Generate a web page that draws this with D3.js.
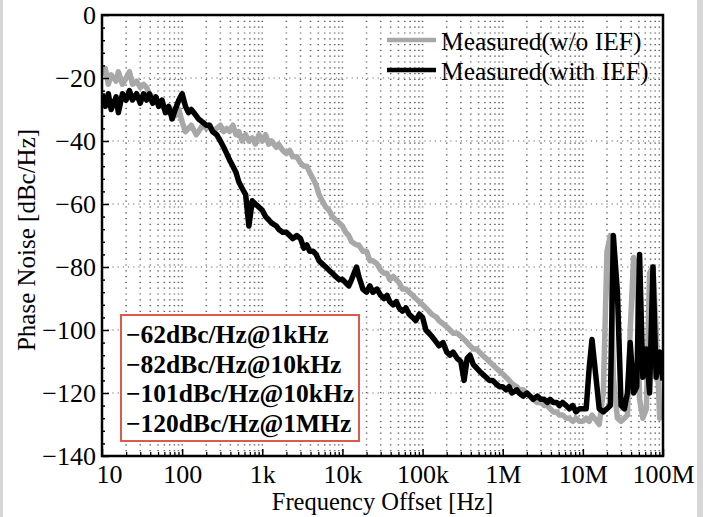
<!DOCTYPE html>
<html><head><meta charset="utf-8">
<script src="https://cdn.jsdelivr.net/npm/d3@7"></script>
<style>
body{margin:0;background:#fff}
svg{display:block}
text{font-family:"Liberation Serif","Times New Roman",serif}
</style></head>
<body><svg id="c" width="703" height="517"></svg>
<script>
// ---------- data ----------
const freqHz = [
 10,11,12,13,15,16,18,20,22,24,27,30,33,36,39,43,47,51,56,62,68,75,82,91,
 100,110,120,130,150,160,180,200,220,240,270,300,330,360,390,430,470,510,560,620,680,750,820,910,
 1e3,1.1e3,1.2e3,1.3e3,1.5e3,1.6e3,1.8e3,2e3,2.2e3,2.4e3,2.7e3,3e3,3.3e3,3.6e3,3.9e3,4.3e3,4.7e3,5.1e3,5.6e3,6.2e3,6.8e3,7.5e3,8.2e3,9.1e3,
 1e4,1.1e4,1.2e4,1.3e4,1.5e4,1.6e4,1.8e4,2e4,2.2e4,2.4e4,2.7e4,3e4,3.3e4,3.6e4,3.9e4,4.3e4,4.7e4,5.1e4,5.6e4,6.2e4,6.8e4,7.5e4,8.2e4,9.1e4,
 1e5,1.1e5,1.2e5,1.3e5,1.5e5,1.6e5,1.8e5,2e5,2.2e5,2.4e5,2.7e5,3e5,3.3e5,3.6e5,3.9e5,4.3e5,4.7e5,5.1e5,5.6e5,6.2e5,6.8e5,7.5e5,8.2e5,9.1e5,
 1e6,1.1e6,1.2e6,1.3e6,1.5e6,1.6e6,1.8e6,2e6,2.2e6,2.4e6,2.7e6,3e6,3.3e6,3.6e6,3.9e6,4.3e6,4.7e6,5.1e6,5.6e6,6.2e6,6.8e6,7.5e6,8.2e6,9.1e6,
 1e7,1.1e7,1.2e7,1.3e7,1.5e7,1.6e7,1.8e7,2e7,2.2e7,2.4e7,2.7e7,3e7,3.3e7,3.6e7,3.9e7,4.3e7,4.7e7,5.1e7,5.6e7,6.2e7,6.8e7,7.5e7,8.2e7,9.1e7,
 1e8
];
const withIEF = [
 -25,-29,-25,-30,-26,-31,-25,-27,-24,-27,-25,-28,-25,-27,-25,-28,-26,-29,-27,-31,-29,-33,-30,-27,
 -25,-29,-31,-30,-32,-33,-34,-35,-35,-37,-38,-40,-42,-44,-46,-48,-50,-53,-55,-57,-67,-59,-60,-61,
 -62,-64,-65,-66,-67,-68,-69,-69,-70,-71,-70,-71,-74,-73,-75,-75,-76,-78,-79,-80,-81,-82,-83,-84,
 -84,-85,-86,-84,-80,-83,-87,-88,-86,-88,-87,-89,-90,-89,-91,-92,-91,-93,-94,-93,-95,-96,-97,-95,
 -96,-100,-101,-102,-104,-105,-104,-107,-108,-107,-109,-110,-116,-109,-108,-111,-112,-113,-114,-115,-116,-116,-117,-118,
 -118,-119,-118,-120,-119,-120,-121,-120,-121,-122,-121,-122,-122,-123,-122,-123,-123,-124,-123,-124,-125,-124,-126,-125,
 -125,-125,-112,-103,-118,-125,-126,-125,-124,-70,-88,-124,-125,-120,-104,-120,-118,-76,-115,-106,-120,-80,-115,-107,
 -116
];
const withoutIEF = [
 -19,-17,-22,-19,-21,-18,-22,-20,-18,-22,-21,-23,-22,-23,-25,-26,-27,-28,-29,-30,-31,-30,-32,-30,
 -34,-37,-36,-35,-38,-37,-35,-36,-35,-37,-36,-35,-37,-36,-37,-35,-38,-37,-40,-38,-40,-39,-41,-38,
 -40,-38,-41,-40,-42,-41,-43,-44,-43,-45,-45,-47,-48,-48,-50,-52,-54,-57,-59,-61,-62,-64,-65,-66,
 -67,-69,-70,-72,-73,-73,-75,-75,-78,-78,-79,-81,-82,-82,-84,-83,-84,-85,-87,-87,-88,-89,-90,-91,
 -92,-93,-94,-95,-96,-97,-98,-99,-100,-101,-101,-102,-103,-104,-105,-106,-106,-107,-108,-109,-110,-111,-112,-113,
 -114,-115,-116,-117,-118,-119,-119,-120,-121,-122,-123,-123,-124,-124,-125,-126,-126,-127,-127,-128,-128,-129,-128,-129,
 -129,-128,-129,-127,-129,-130,-120,-75,-70,-115,-128,-129,-128,-127,-100,-77,-80,-122,-128,-125,-82,-80,-100,-128,
 -127
];
const xTickValues = [10,100,1e3,1e4,1e5,1e6,1e7,1e8];
const xTickLabels = ["10","100","1k","10k","100k","1M","10M","100M"];
const yTickValues = [0,-20,-40,-60,-80,-100,-120,-140];
const yTickLabels = ["0","\u221220","\u221240","\u221260","\u221280","\u2212100","\u2212120","\u2212140"];
const seriesNames = ["Measured(w/o IEF)","Measured(with IEF)"];
const noteLines = ["\u221262dBc/Hz@1kHz","\u221282dBc/Hz@10kHz","\u2212101dBc/Hz@10kHz","\u2212120dBc/Hz@1MHz"];

// ---------- layout ----------
const svg = d3.select("#c");
const L = 102, T = 15, R = 663, B = 456;
const x = d3.scaleLog().domain([10, 1e8]).range([L, R]);
const y = d3.scaleLinear().domain([-140, 0]).range([B, T]);

// grey side strips of the original picture
svg.append("rect").attr("x",0).attr("y",0).attr("width",3).attr("height",517).attr("fill","#d6d6d6");
svg.append("rect").attr("x",697).attr("y",0).attr("width",6).attr("height",517).attr("fill","#d6d6d6");

// grid
const xGrid = [];
xTickValues.slice(0,-1).forEach(d => { for (let m=1;m<=9;m++) xGrid.push(d*m); });
const grid = svg.append("g");
grid.selectAll("line.v").data(xGrid.filter(v=>v>10)).join("line")
  .attr("x1",d=>x(d)).attr("x2",d=>x(d)).attr("y1",T).attr("y2",B)
  .attr("stroke","#666").attr("stroke-width",1.6).attr("stroke-dasharray","1.2,4.6");
grid.selectAll("line.h").data(yTickValues.filter(v=>v<0 && v>-140)).join("line")
  .attr("x1",L).attr("x2",R).attr("y1",d=>y(d)).attr("y2",d=>y(d))
  .attr("stroke","#666").attr("stroke-width",1.2).attr("stroke-dasharray","1.2,4");

// lines
svg.append("clipPath").attr("id","pc").append("rect")
  .attr("x",L).attr("y",T).attr("width",R-L).attr("height",B-T);
const line = d3.line().x((d,i)=>x(freqHz[i])).y(d=>y(d)).curve(d3.curveLinear);
const plot = svg.append("g").attr("clip-path","url(#pc)");
plot.append("path").attr("d",line(withoutIEF)).attr("fill","none")
  .attr("stroke","#a8a8a8").attr("stroke-width",5.5).attr("stroke-linejoin","round");
plot.append("path").attr("d",line(withIEF)).attr("fill","none")
  .attr("stroke","#000").attr("stroke-width",5.5).attr("stroke-linejoin","round");

// axes
const tfs = 26;
const xMinor = xGrid.filter(v => !xTickValues.includes(v));
const yMinor = d3.range(-136, 0, 4).filter(v => v % 20 !== 0);
const gx = svg.append("g").attr("transform",`translate(0,${B})`)
  .call(d3.axisBottom(x).tickValues(xTickValues).tickSize(-7).tickPadding(9)
    .tickFormat((d,i)=>xTickLabels[i]));
gx.select(".domain").remove();
gx.selectAll("text").attr("font-size",tfs).attr("fill","#000").style("font-family","'Liberation Serif',serif");
gx.selectAll("text").filter((d,i)=>i===0).attr("dx",7);
gx.selectAll("line").attr("stroke-width",1.5);
const gxm = svg.append("g").attr("transform",`translate(0,${B})`)
  .call(d3.axisBottom(x).tickValues(xMinor).tickSize(-4).tickFormat(""));
gxm.select(".domain").remove();
gxm.selectAll("line").attr("stroke-width",1.3);

const gy = svg.append("g").attr("transform",`translate(${L},0)`)
  .call(d3.axisLeft(y).tickValues(yTickValues).tickSize(-7).tickPadding(6)
    .tickFormat((d,i)=>yTickLabels[i]));
gy.select(".domain").remove();
gy.selectAll("text").attr("font-size",tfs).attr("fill","#000").style("font-family","'Liberation Serif',serif");
gy.selectAll("line").attr("stroke-width",1.5);
const gym = svg.append("g").attr("transform",`translate(${L},0)`)
  .call(d3.axisLeft(y).tickValues(yMinor).tickSize(-3).tickFormat(""));
gym.select(".domain").remove();
gym.selectAll("line").attr("stroke-width",1.5);

// frame
svg.append("rect").attr("x",L).attr("y",T).attr("width",R-L).attr("height",B-T)
  .attr("fill","none").attr("stroke","#000").attr("stroke-width",2.5);

// axis titles
svg.append("text").attr("x",(L+R)/2).attr("y",510).attr("text-anchor","middle")
  .attr("font-size",24.5).text("Frequency Offset [Hz]");
svg.append("text").attr("transform","translate(35,240) rotate(-90)").attr("text-anchor","middle")
  .attr("font-size",25).text("Phase Noise [dBc/Hz]");

// legend
const leg = svg.append("g");
const legColors = ["#a8a8a8","#000"];
seriesNames.forEach((n,i) => {
  const ly = 40 + i*30;
  leg.append("line").attr("x1",387).attr("x2",436).attr("y1",ly).attr("y2",ly)
    .attr("stroke",legColors[i]).attr("stroke-width",4.5);
  leg.append("text").attr("x",441).attr("y",ly+9.5).attr("font-size",25.5).text(n);
});

// annotation box
svg.append("rect").attr("x",121).attr("y",315).attr("width",238).attr("height",126)
  .attr("fill","#fff").attr("stroke","#dc5a4a").attr("stroke-width",2);
noteLines.forEach((t,i) => {
  svg.append("text").attr("x",126).attr("y",343 + i*29.7).attr("font-size",25.5)
    .attr("font-weight","bold").text(t);
});
</script></body></html>
